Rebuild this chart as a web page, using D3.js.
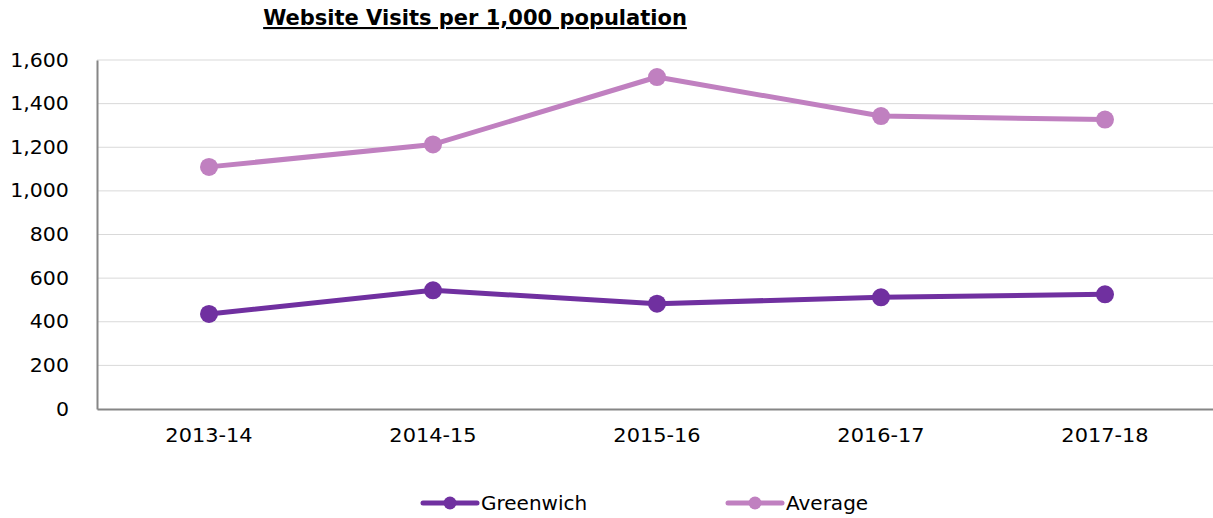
<!DOCTYPE html>
<html><head><meta charset="utf-8">
<script src="https://cdn.jsdelivr.net/npm/d3@7"></script>
<style>
body{margin:0;background:#fff;}
svg{display:block;font-family:"DejaVu Sans",Verdana,sans-serif;}
</style></head>
<body><svg id="chart" width="1213" height="518"></svg>
<script>
const categories = ["2013-14","2014-15","2015-16","2016-17","2017-18"];
const greenwich = [436, 544, 483, 512, 526];
const average = [1110, 1213, 1522, 1343, 1327];
const yTicks = [0,200,400,600,800,1000,1200,1400,1600];
const seriesNames = ["Greenwich","Average"];
const seriesColors = ["#7030a0","#c080c0"];

const svg = d3.select("#chart");
const L = 97, R = 1217, T = 60, B = 409;
const x = d3.scaleBand().domain(categories).range([L, R]);
const y = d3.scaleLinear().domain([0,1600]).range([B, T]);

// gridlines
svg.append("g").selectAll("line").data(yTicks.filter(d=>d>0)).join("line")
  .attr("x1", L).attr("x2", 1213).attr("y1", d=>y(d)).attr("y2", d=>y(d))
  .attr("stroke","#d9d9d9").attr("stroke-width",1);

// y axis
const yAxis = svg.append("g").attr("transform",`translate(${L},0)`)
  .call(d3.axisLeft(y).tickValues(yTicks).tickSize(0).tickPadding(26).tickFormat(d3.format(",")));
yAxis.select(".domain").attr("stroke","#868686").attr("stroke-width",2);
yAxis.selectAll("text").attr("font-size",19).attr("fill","#000")
  .attr("font-family","DejaVu Sans, Verdana, sans-serif")
  .attr("transform","scale(1.08,1)");

// x axis
const xAxis = svg.append("g").attr("transform",`translate(0,${B})`)
  .call(d3.axisBottom(x).tickSize(0).tickPadding(20));
xAxis.select(".domain").attr("stroke","#868686").attr("stroke-width",2);
xAxis.selectAll("text").attr("font-size",19).attr("fill","#000")
  .attr("font-family","DejaVu Sans, Verdana, sans-serif")
  .attr("transform","scale(1.1,1)");

const cx = d => x(d) + x.bandwidth()/2;
const line = d3.line().x((d,i)=>cx(categories[i])).y(d=>y(d));
[greenwich, average].forEach((vals, s) => {
  const g = svg.append("g");
  g.append("path").datum(vals).attr("d", line).attr("fill","none")
    .attr("stroke", seriesColors[s]).attr("stroke-width",5).attr("stroke-linejoin","round");
  g.selectAll("circle").data(vals).join("circle")
    .attr("cx",(d,i)=>cx(categories[i])).attr("cy",d=>y(d)).attr("r",9)
    .attr("fill", seriesColors[s]);
});

// title
svg.append("text").attr("x",475).attr("y",25).attr("text-anchor","middle")
  .attr("font-size",21).attr("font-weight","bold").attr("fill","#000")
  .attr("text-decoration","underline")
  .text("Website Visits per 1,000 population");

// legend
const legendX = [423, 728];
seriesNames.forEach((n, i) => {
  const g = svg.append("g").attr("transform",`translate(${legendX[i]},503)`);
  g.append("line").attr("x1",0).attr("x2",54).attr("y1",0).attr("y2",0)
    .attr("stroke",seriesColors[i]).attr("stroke-width",5).attr("stroke-linecap","round");
  g.append("circle").attr("cx",27).attr("cy",0).attr("r",6.5).attr("fill",seriesColors[i]);
  g.append("text").attr("x",58).attr("y",7).attr("font-size",20).attr("fill","#000").text(n);
});
</script></body></html>
